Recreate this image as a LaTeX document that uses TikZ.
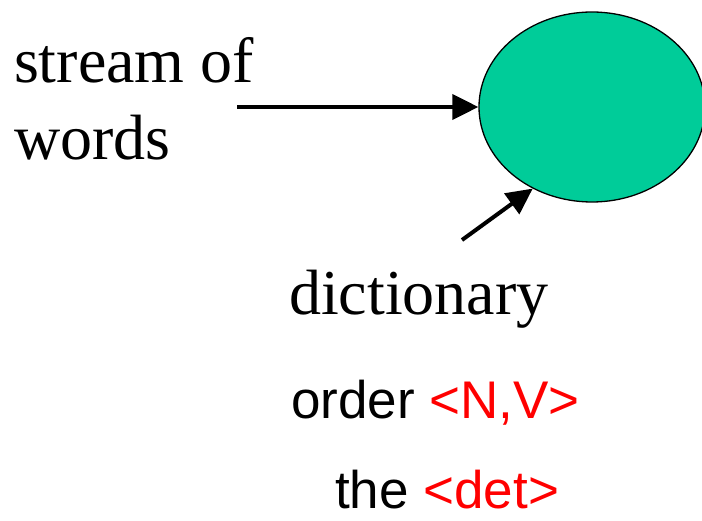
\documentclass[tikz,border=0pt]{standalone}
\usepackage{fontspec}
\setmainfont{Liberation Serif}
\newfontfamily\arialfont{Liberation Sans}
\usetikzlibrary{arrows.meta,shapes.geometric}
\definecolor{blobgreen}{RGB}{0,204,153}
\begin{document}
\begin{tikzpicture}[x=1pt,y=1pt,
  label text/.style={inner sep=0pt,outer sep=0pt,anchor=base west},
  big serif/.style={font=\fontsize{64}{77}\selectfont},
  tag sans/.style={font=\arialfont\fontsize{53}{60}\selectfont},
  feed/.style={line width=4pt,-{Triangle[length=26pt,width=25pt]}}]
\useasboundingbox (0,0) rectangle (702,520);
\clip (0,0) rectangle (702,520);

% the processing unit
\node[ellipse,draw,line width=1.3pt,fill=blobgreen,
      minimum width=226pt,minimum height=190pt,inner sep=0pt] (proc) at (592,413) {};

% input labels (base anchor sits on the last line)
\node[label text,big serif,align=left] (stream) at (14,360) {stream of\\words};
\node[label text,big serif] (dict) at (289,205) {dictionary};
\node[label text,tag sans] (ord) at (291,102) {order \textcolor{red}{<N,V>}};
\node[label text,tag sans] (the) at (335,12) {the \textcolor{red}{<det>}};

% connectors
\coordinate (streamend) at (237,413);
\coordinate (dictend) at (462,280);
\draw[feed] (streamend) -- (proc.west);
\draw[feed] (dictend) -- (proc.234);
\end{tikzpicture}
\end{document}
